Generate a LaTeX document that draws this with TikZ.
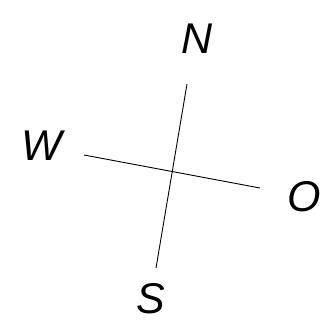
\documentclass[tikz,border=0pt]{standalone}
\usepackage{fontspec}
\setmainfont{Liberation Sans}
\begin{document}
\begin{tikzpicture}[x=1pt,y=-1pt,
  lbl/.style={font=\fontsize{43}{43}\selectfont\itshape, inner sep=0pt, anchor=center},
  axis/.style={line width=0.9pt, black}]
\useasboundingbox (0,0) rectangle (334,326);
\node[lbl] (n) at (197,39) {N};
\node[lbl] (w) at (42,146) {W};
\node[lbl] (o) at (304,197) {O};
\node[lbl] (s) at (151,299) {S};
\coordinate (nt) at (187,84);
\coordinate (sb) at (156,268);
\coordinate (wl) at (84,155);
\coordinate (or) at (260,188);
\draw[axis] (nt) -- (sb);
\draw[axis] (wl) -- (or);
\end{tikzpicture}
\end{document}
